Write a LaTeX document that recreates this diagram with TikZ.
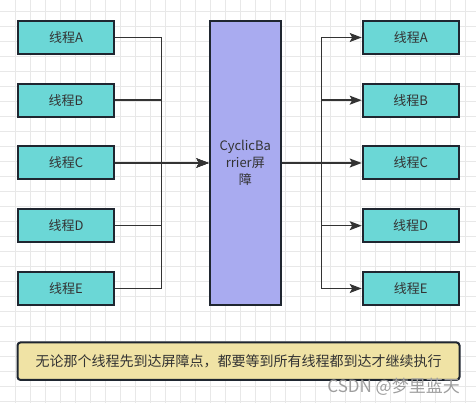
\documentclass[tikz,border=0pt]{standalone}
\usepackage{fontspec}
\setmainfont{Noto Sans CJK SC}
\usetikzlibrary{arrows.meta}
\definecolor{threadfill}{HTML}{6BD7D6}
\definecolor{barrierfill}{HTML}{A9ABF0}
\definecolor{notefill}{HTML}{F0E3A5}
\definecolor{edgedark}{HTML}{1F2630}
\definecolor{inkgray}{HTML}{333333}
\definecolor{gridgray}{HTML}{E8E8E8}
\tikzset{
	thread/.style={rectangle, draw=edgedark, line width=2pt, fill=threadfill, minimum width=96pt, minimum height=33pt, inner sep=0pt, text=inkgray, font=\fontsize{13pt}{16pt}\selectfont},
	barrierbox/.style={rectangle, draw=edgedark, line width=2pt, fill=barrierfill, minimum width=71.5pt, minimum height=284pt, inner sep=0pt, align=center, text=inkgray, font=\fontsize{13pt}{16.7pt}\selectfont},
	notebox/.style={rectangle, rounded corners=3pt, draw=edgedark, line width=2pt, fill=notefill, minimum width=442pt, minimum height=37.5pt, inner sep=0pt, text=inkgray, font=\fontsize{14pt}{16pt}\selectfont},
	link/.style={draw=inkgray, line width=1.5pt, -{Stealth[length=12pt, width=9pt, inset=2.5pt]}},
}
\begin{document}
\begin{tikzpicture}[x=1pt, y=-1pt]
	\useasboundingbox (0,0) rectangle (476,403);
	\fill[white] (0,0) rectangle (476,403);
	% background grid
	\foreach \gx in {15.7,30.7,...,470} \draw[gridgray, line width=1pt] (\gx,0) -- (\gx,403);
	\foreach \gy in {11.7,26.7,...,403} \draw[gridgray, line width=1pt] (0,\gy) -- (476,\gy);
	% threads waiting
	\node[thread] at (66,37.5) (L1) {线程A};
	\node[thread] at (66,100.2) (L2) {线程B};
	\node[thread] at (66,163) (L3) {线程C};
	\node[thread] at (66,225.7) (L4) {线程D};
	\node[thread] at (66,288.5) (L5) {线程E};
	\node[barrierbox] at (245.3,163) (B) {CyclicBa\\rrier屏\\障};
	% threads released
	\node[thread] at (410.7,37.5) (R1) {线程A};
	\node[thread] at (410.7,100.2) (R2) {线程B};
	\node[thread] at (410.7,163) (R3) {线程C};
	\node[thread] at (410.7,225.7) (R4) {线程D};
	\node[thread] at (410.7,288.5) (R5) {线程E};
	\node[shape=coordinate] at (161.7,163) (P1) {};
	\node[shape=coordinate] at (321.7,163) (P2) {};
	\draw[link] (L1.east) -| (P1) -- (B.west);
	\draw[link] (L2.east) -| (P1) -- (B.west);
	\draw[link] (L3.east) -- (B.west);
	\draw[link] (L4.east) -| (P1) -- (B.west);
	\draw[link] (L5.east) -| (P1) -- (B.west);
	\draw[link] (B.east) -- (P2) |- (R1.west);
	\draw[link] (B.east) -- (P2) |- (R2.west);
	\draw[link] (B.east) -- (R3.west);
	\draw[link] (B.east) -- (P2) |- (R4.west);
	\draw[link] (B.east) -- (P2) |- (R5.west);
	\node[notebox] at (238.5,361.2) (N) {无论那个线程先到达屏障点，都要等到所有线程都到达才继续执行};
	\node[text=black!38, font=\fontsize{17pt}{18pt}\selectfont, anchor=east, inner sep=0pt] at (460,387) (W) {CSDN @梦里蓝天};
\end{tikzpicture}
\end{document}
